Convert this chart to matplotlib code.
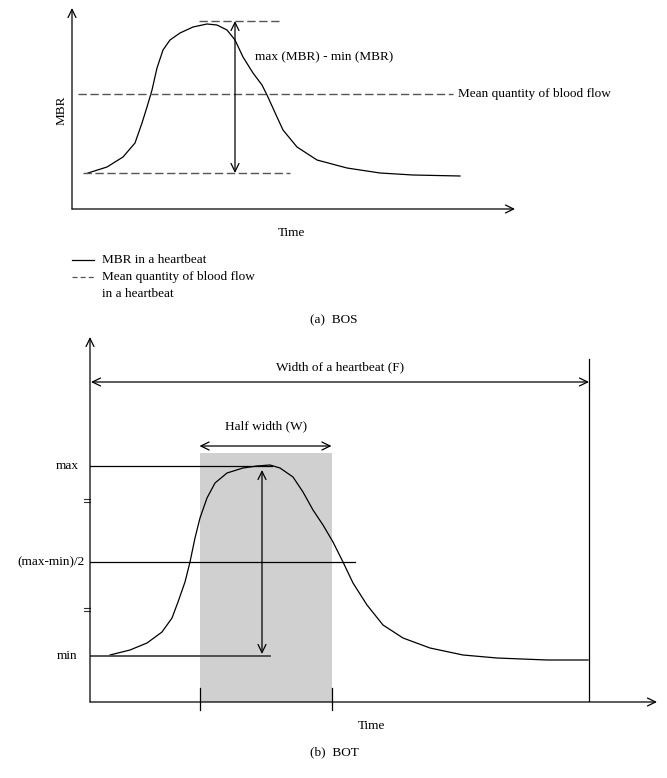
"""
Schematic of the BOS and BOT features of one heartbeat (MBR curve).
Two panels: (a) BOS with mean blood flow, (b) BOT with half width.
"""

import matplotlib
matplotlib.use("Agg")
import matplotlib.pyplot as plt
from matplotlib.lines import Line2D

plt.rcParams["font.family"] = ["Liberation Serif", "DejaVu Serif"]
plt.rcParams["font.size"] = 9.5

# ---- panel (a): MBR in one heartbeat (arbitrary time / MBR units) ----
bos_time = [16, 35, 51, 63, 70, 75, 80, 85, 91, 98, 108, 121, 135, 145, 155,
            163, 171, 181, 190, 195, 205, 211, 225, 245, 275, 308, 341, 388]
bos_mbr = [36, 42, 52, 66, 86, 102, 119, 141, 159, 169, 176, 182, 185, 184,
           179, 169, 152, 136, 124, 114, 92, 79, 62, 49, 41, 36, 34, 33]
bos_mean = 115
bos_max_level = 188
bos_min_level = 36

# ---- panel (b): same beat, BOT measurements ----
bot_time = [20, 40, 57, 72, 82, 88, 95, 100, 105, 110, 117, 125, 137, 153,
            167, 180, 190, 203, 213, 223, 233, 243, 253, 263, 277, 293, 313,
            340, 373, 407, 457, 498]
bot_mbr = [47, 52, 59, 70, 84, 100, 120, 140, 164, 184, 204, 219, 229, 234,
           236, 237, 234, 225, 210, 192, 177, 160, 140, 119, 97, 77, 64, 54,
           47, 44, 42, 42]
bot_max = 236
bot_min = 46
bot_half = 140
half_width = (109.5, 241.5)
beat_width = (1, 499)
equal_marks = (202, 93)

W, H = 667, 778
fig = plt.figure(figsize=(W / 100, H / 100), dpi=100)

LW = 0.9
DASH = (0, (6, 2.6))
DCOL = "#555555"


def panel_axes(x0, y0, x1, y1):
    """Axes whose data units are pixels measured from the panel origin."""
    ax = fig.add_axes([x0 / W, 1 - y1 / H, (x1 - x0) / W, (y1 - y0) / H])
    ax.set_xlim(0, x1 - x0)
    ax.set_ylim(0, y1 - y0)
    ax.axis("off")
    return ax


def arrow(ax, start, end, style="->", color="black"):
    ax.annotate("", xy=end, xytext=start, annotation_clip=False,
                arrowprops=dict(arrowstyle=style + ",head_length=0.45,head_width=0.22",
                                lw=LW, color=color, shrinkA=0, shrinkB=0,
                                mutation_scale=13))


# ================= (a) BOS =================
ax = panel_axes(72, 8, 515, 209)
arrow(ax, (0, 0), (0, 201))
arrow(ax, (0, 0), (443, 0))

ax.plot(bos_time, bos_mbr, color="black", lw=LW)
ax.plot([6, 381], [bos_mean, bos_mean], color=DCOL, lw=1.0, ls=DASH)
ax.plot([127, 207], [bos_max_level, bos_max_level], color=DCOL, lw=1.0, ls=DASH)
ax.plot([11, 218], [bos_min_level, bos_min_level], color=DCOL, lw=1.0, ls=DASH)
arrow(ax, (163, bos_min_level), (163, bos_max_level), style="<->")

ax.text(386, bos_mean, "Mean quantity of blood flow", va="center", ha="left")
ax.text(183, 152, "max (MBR) - min (MBR)", va="center", ha="left")
ax.text(-10, 99, "MBR", rotation=90, va="center", ha="center")
ax.text(220, -24, "Time", va="center", ha="center")

# legend drawn by hand so the dashed key sits on the first text line
fig.add_artist(Line2D([72 / W, 94 / W], [1 - 260 / H] * 2, color="black", lw=LW))
fig.add_artist(Line2D([72 / W, 94 / W], [1 - 277 / H] * 2, color=DCOL, lw=LW, ls=(0, (4, 2.5))))
fig.text(102 / W, 1 - 260 / H, "MBR in a heartbeat", va="center")
fig.text(102 / W, 1 - 277 / H, "Mean quantity of blood flow", va="center")
fig.text(102 / W, 1 - 294 / H, "in a heartbeat", va="center")
fig.text(334 / W, 1 - 320 / H, "(a)  BOS", va="center", ha="center")

# ================= (b) BOT =================
ax = panel_axes(90, 337, 657, 702)
ax.axvspan(half_width[0], half_width[1], ymin=0, ymax=249 / 365,
           color="#d0d0d0", lw=0, zorder=0)
arrow(ax, (0, 0), (0, 365))
arrow(ax, (0, 0), (567, 0))

ax.plot(bot_time, bot_mbr, color="black", lw=LW)
ax.plot([0, 182], [bot_max, bot_max], color="black", lw=LW)
ax.plot([0, 265], [bot_half, bot_half], color="black", lw=LW)
ax.plot([0, 180], [bot_min, bot_min], color="#444444", lw=LW + 0.4)
arrow(ax, (172, bot_min + 2), (172, bot_max - 4), style="<->")

ax.plot([beat_width[1], beat_width[1]], [0, 343], color="black", lw=LW)
arrow(ax, (beat_width[0], 320), (beat_width[1], 320), style="<->")
arrow(ax, (half_width[0], 256), (half_width[1], 256), style="<->")
for t in half_width:
    ax.plot([t, t], [-8, 14], color="black", lw=LW, clip_on=False)

# small "=" break marks on the value axis
for v in equal_marks:
    for dv in (-1.5, 1.5):
        ax.plot([-6, 0], [v + dv, v + dv], color="#333333", lw=0.8, clip_on=False)

ax.text(250, 335, "Width of a heartbeat (F)", va="center", ha="center")
ax.text(176, 276, "Half width (W)", va="center", ha="center")
ax.text(-23, bot_max, "max", va="center", ha="center")
ax.text(-23, bot_min, "min", va="center", ha="center")
ax.text(-5, bot_half, "(max-min)/2", va="center", ha="right")
ax.text(282, -24, "Time", va="center", ha="center")
ax.text(244, -50, "(b)  BOT", va="center", ha="center")

fig.savefig("out.png", dpi=100, facecolor="white")
